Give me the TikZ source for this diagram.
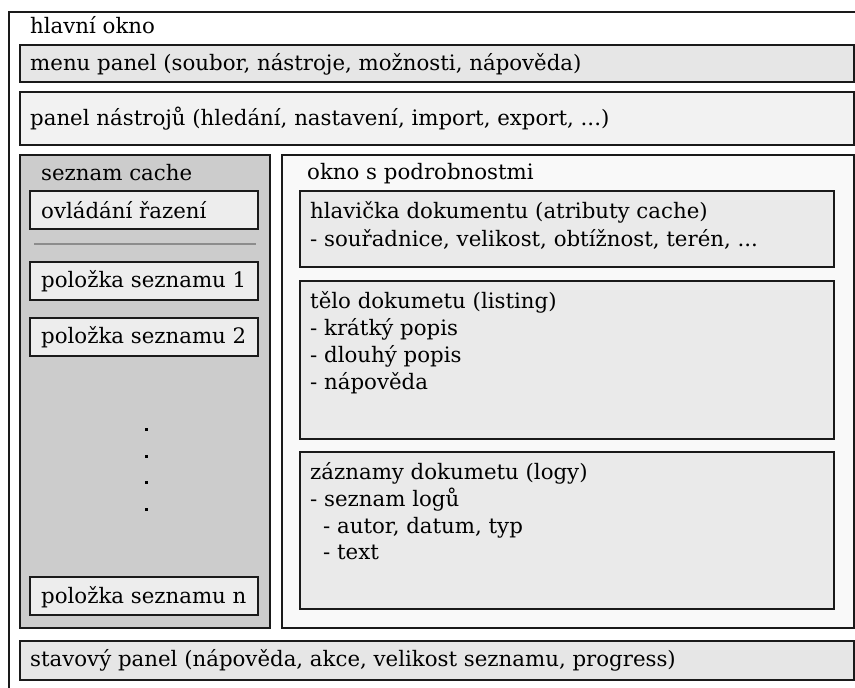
\documentclass[tikz,border=0pt]{standalone}
\usepackage{fontspec}
\setmainfont{DejaVu Serif}
\definecolor{edge}{HTML}{1A1A1A}
\definecolor{menufill}{HTML}{E6E6E6}
\definecolor{toolfill}{HTML}{F2F2F2}
\definecolor{listfill}{HTML}{CCCCCC}
\definecolor{itemfill}{HTML}{EDEDED}
\definecolor{detailfill}{HTML}{F9F9F9}
\definecolor{sectfill}{HTML}{EAEAEA}
\definecolor{sepline}{HTML}{8C8C8C}
\begin{document}
\begin{tikzpicture}[x=1pt,y=-1pt,
  frame/.style={draw=edge, line width=1.4pt},
  lbl/.style={anchor=base west, inner sep=0pt, font=\fontsize{21.3}{27}\selectfont},
  dotmark/.style={fill=black, minimum size=3pt, inner sep=0pt, shape=rectangle}
]
\useasboundingbox (0,0) rectangle (855,688);
\clip (0,0) rectangle (855,688);

% main window
\draw[frame, fill=white] (9,12) rectangle (880,710);
\node[lbl] (mainlbl) at (30,33) {hlavní okno};

% menu bar
\draw[frame, fill=menufill] (20,45) rectangle (854,82);
\node[lbl] (menulbl) at (30,70) {menu panel (soubor, nástroje, možnosti, nápověda)};

% toolbar
\draw[draw=edge, line width=2.2pt, fill=toolfill] (20,92) rectangle (854,145);
\node[lbl] (toollbl) at (30,125) {panel nástrojů (hledání, nastavení, import, export, ...)};

% cache list
\draw[frame, fill=listfill] (20,155) rectangle (270,628);
\node[lbl] (listlbl) at (41,180) {seznam cache};
\draw[frame, fill=itemfill] (30,191) rectangle (258,229);
\node[lbl] (sortlbl) at (41,218) {ovládání řazení};
\draw[draw=sepline, line width=1.5pt] (34,244) -- (256,244);
\draw[frame, fill=itemfill] (30,262) rectangle (258,300);
\node[lbl] (item1) at (41,287) {položka seznamu 1};
\draw[frame, fill=itemfill] (30,318) rectangle (258,356);
\node[lbl] (item2) at (41,343) {položka seznamu 2};
\node[dotmark] (d1) at (146,429) {};
\node[dotmark] (d2) at (146,456) {};
\node[dotmark] (d3) at (146,482) {};
\node[dotmark] (d4) at (146,509) {};
\draw[frame, fill=itemfill] (30,577) rectangle (258,615);
\node[lbl] (itemn) at (41,603) {položka seznamu n};

% detail window
\draw[frame, fill=detailfill] (282,155) rectangle (854,628);
\node[lbl] (detlbl) at (307,179) {okno s podrobnostmi};

\draw[frame, fill=sectfill] (300,191) rectangle (834,267);
\node[lbl] (h1) at (310,218) {hlavička dokumentu (atributy cache)};
\node[lbl] (h2) at (310,246) {- souřadnice, velikost, obtížnost, terén, ...};

\draw[frame, fill=sectfill] (300,281) rectangle (834,439);
\node[lbl] (b1) at (310,308) {tělo dokumetu (listing)};
\node[lbl] (b2) at (310,335) {- krátký popis};
\node[lbl] (b3) at (310,362) {- dlouhý popis};
\node[lbl] (b4) at (310,389) {- nápověda};

\draw[frame, fill=sectfill] (300,452) rectangle (834,609);
\node[lbl] (l1) at (310,479) {záznamy dokumetu (logy)};
\node[lbl] (l2) at (310,506) {- seznam logů};
\node[lbl] (l3) at (323,533) {- autor, datum, typ};
\node[lbl] (l4) at (323,559) {- text};

% status bar
\draw[frame, fill=menufill] (20,641) rectangle (854,680);
\node[lbl] (statlbl) at (30,666) {stavový panel (nápověda, akce, velikost seznamu, progress)};
\end{tikzpicture}
\end{document}
